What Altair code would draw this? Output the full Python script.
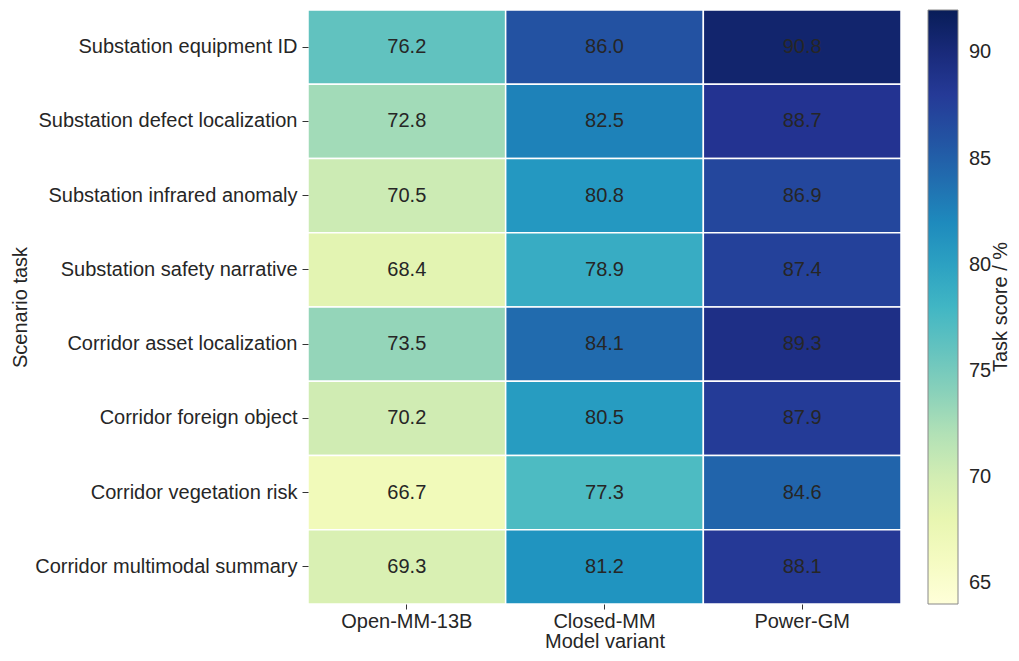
import altair as alt
import pandas as pd

tasks = [
    "Substation equipment ID",
    "Substation defect localization",
    "Substation infrared anomaly",
    "Substation safety narrative",
    "Corridor asset localization",
    "Corridor foreign object",
    "Corridor vegetation risk",
    "Corridor multimodal summary",
]
models = ["Open-MM-13B", "Closed-MM", "Power-GM"]
open_mm = [76.2, 72.8, 70.5, 68.4, 73.5, 70.2, 66.7, 69.3]
closed_mm = [86.0, 82.5, 80.8, 78.9, 84.1, 80.5, 77.3, 81.2]
power_gm = [90.8, 88.7, 86.9, 87.4, 89.3, 87.9, 84.6, 88.1]
legend_title = "Task score / %"
colorbar_ticks = [65, 70, 75, 80, 85, 90]

# YlGnBu colormap stops (matplotlib)
ylgnbu = ["#ffffd9", "#edf8b1", "#c7e9b4", "#7fcdbb", "#41b6c4",
          "#1d91c0", "#225ea8", "#253494", "#081d58"]
vmin, vmax = 64, 92
stops = [vmin + (vmax - vmin) * i / (len(ylgnbu) - 1) for i in range(len(ylgnbu))]

rows = []
for model, vals in zip(models, [open_mm, closed_mm, power_gm]):
    for t, v in zip(tasks, vals):
        rows.append({"task": t, "model": model, "score": v})
df = pd.DataFrame(rows)

FONT = "Liberation Sans"
TXT = "#262626"
FS = 20
W, H = 593, 594
PL, PT = 300, 2
PR = 1003 - PL - W
PB = 645 - PT - H

base = alt.Chart(df).encode(
    x=alt.X("model:N", sort=models, title="Model variant",
            axis=alt.Axis(labelAngle=0, domain=False, tickSize=5, tickColor="#333333",
                          labelFontSize=FS, titleFontSize=FS, labelPadding=2, titlePadding=0,
                          labelColor=TXT, titleColor=TXT, labelFont=FONT, titleFont=FONT,
                          titleFontWeight="normal")),
    y=alt.Y("task:N", sort=tasks, title="Scenario task",
            axis=alt.Axis(domain=False, tickSize=6, tickColor="#333333",
                          labelFontSize=FS, titleFontSize=FS, labelPadding=5,
                          labelColor=TXT, titleColor=TXT, labelFont=FONT, titleFont=FONT,
                          titleFontWeight="normal", labelLimit=400,
                          titleX=-288, titleY=H / 2, titleAngle=270,
                          titleBaseline="middle")),
)

rects = base.mark_rect(stroke="white", strokeWidth=1.5).encode(
    color=alt.Color("score:Q",
                    scale=alt.Scale(domain=stops, range=ylgnbu, interpolate="rgb"),
                    legend=alt.Legend(title=None, orient="right", offset=27,
                                      gradientLength=H, gradientThickness=30,
                                      gradientStrokeColor="#888888", gradientStrokeWidth=1,
                                      values=colorbar_ticks,
                                      labelFontSize=FS, labelFont=FONT, labelColor=TXT,
                                      labelOffset=11, direction="vertical")),
)

texts = base.mark_text(fontSize=FS, font=FONT, color=TXT).encode(
    text=alt.Text("score:Q", format=".1f"),
)

title_txt = alt.Chart(pd.DataFrame({"t": [legend_title]})).mark_text(
    fontSize=FS, font=FONT, color=TXT, angle=270, align="center", baseline="middle"
).encode(x=alt.value(W + 100), y=alt.value(H / 2), text="t:N")

chart = (rects + texts + title_txt).properties(
    width=W, height=H,
    autosize=alt.AutoSizeParams(type="none"),
    padding={"top": PT, "left": PL, "right": PR, "bottom": PB},
).configure_view(stroke=None).configure_scale(bandPaddingInner=0, bandPaddingOuter=0)

chart.save("out.html", embed_options={"renderer": "svg", "actions": False})
